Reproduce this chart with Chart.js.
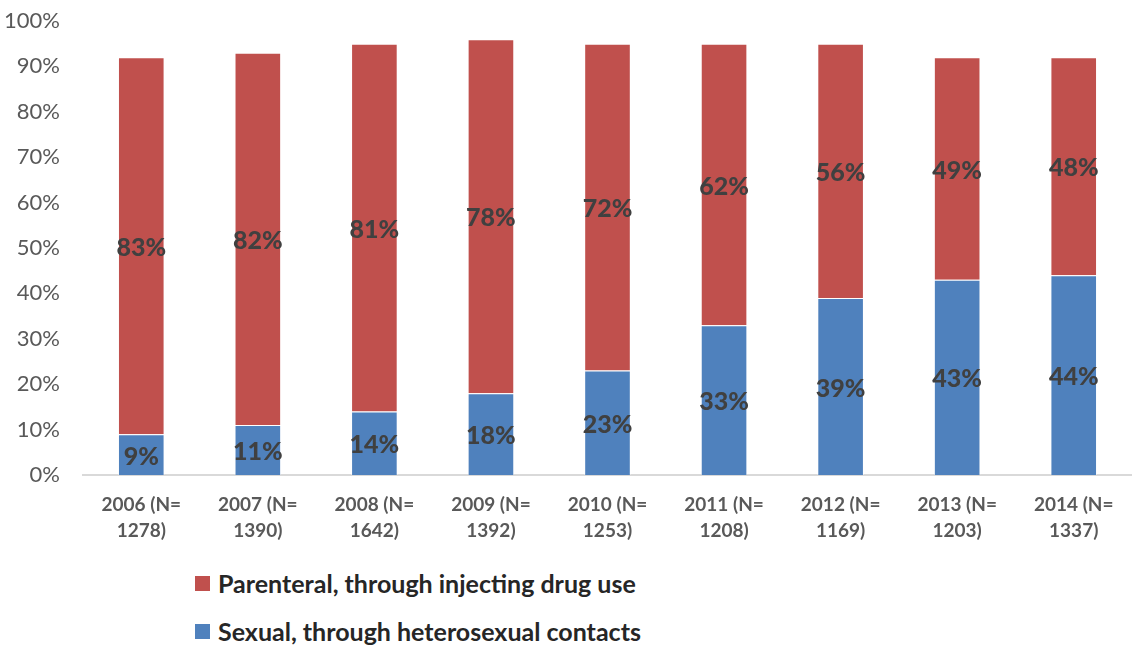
<!DOCTYPE html>
<html>
<head>
<meta charset="utf-8">
<script src="https://cdn.jsdelivr.net/npm/chart.js@4"></script>
<style>
  body { margin: 0; background: #fff; font-family: Lato, sans-serif; }
  #wrap { position: relative; width: 1132px; height: 560px; }
  #legend { position: absolute; left: 195px; top: 570px; }
  .item { display: flex; align-items: center; height: 26px; margin-bottom: 22px;
          font-weight: bold; font-size: 25px; color: #262626; }
  .box { width: 15px; height: 15px; margin-right: 8px; }
</style>
</head>
<body>
<div id="wrap"><canvas id="chart"></canvas></div>
<div id="legend"></div>
<script>
const years = ['2006', '2007', '2008', '2009', '2010', '2011', '2012', '2013', '2014'];
const sampleSizes = ['1278', '1390', '1642', '1392', '1253', '1208', '1169', '1203', '1337'];
const sexual = [9, 11, 14, 18, 23, 33, 39, 43, 44];
const parenteral = [83, 82, 81, 78, 72, 62, 56, 49, 48];

const labels = years.map((y, i) => [y + ' (N=', sampleSizes[i] + ')']);

// draws the % value in the middle of each bar segment
const segmentLabels = {
  id: 'segmentLabels',
  afterDatasetsDraw(chart) {
    const ctx = chart.ctx;
    ctx.save();
    ctx.font = '900 25px Lato';
    ctx.fillStyle = '#404040';
    ctx.textAlign = 'center';
    ctx.textBaseline = 'middle';
    chart.data.datasets.forEach((ds, di) => {
      chart.getDatasetMeta(di).data.forEach((bar, i) => {
        const p = bar.getProps(['x', 'y', 'base'], true);
        ctx.fillText(ds.data[i] + '%', p.x, (p.y + p.base) / 2 + 2);
      });
    });
    ctx.restore();
  }
};

const chart = new Chart(document.getElementById('chart'), {
  type: 'bar',
  data: {
    labels: labels,
    datasets: [
      {
        label: 'Sexual, through heterosexual contacts',
        data: sexual,
        backgroundColor: '#4F81BD',
        borderColor: 'rgba(255,255,255,0.5)',
        borderWidth: 1,
        categoryPercentage: 1,
        barPercentage: 0.4,
      },
      {
        label: 'Parenteral, through injecting drug use',
        data: parenteral,
        backgroundColor: '#C0504D',
        borderColor: 'rgba(255,255,255,0.5)',
        borderWidth: 1,
        categoryPercentage: 1,
        barPercentage: 0.4,
      },
    ],
  },
  options: {
    responsive: true,
    maintainAspectRatio: false,
    animation: false,
    layout: { padding: { top: 21, right: 0, left: 0, bottom: 0 } },
    plugins: {
      legend: { display: false },
      tooltip: { enabled: false },
    },
    scales: {
      x: {
        stacked: true,
        grid: { display: false },
        border: { color: '#d9d9d9', width: 2 },
        ticks: {
          color: '#595959',
          font: { family: 'Lato', size: 19, weight: 'bold', lineHeight: 1.35 },
          padding: 9,
          maxRotation: 0,
          autoSkip: false,
        },
        afterFit: (s) => { s.height = 85; },
      },
      y: {
        stacked: true,
        min: 0,
        max: 100,
        grid: { display: false, drawTicks: false },
        border: { display: false },
        ticks: {
          stepSize: 10,
          color: '#595959',
          font: { family: 'Lato', size: 22 },
          padding: 23,
          callback: (v) => v + '%',
        },
        afterFit: (s) => { s.width = 83; s.paddingTop = 0; s.paddingBottom = 0; },
      },
    },
  },
  plugins: [segmentLabels],
});

// legend listed top-down: parenteral first, then sexual
const legendEl = document.getElementById('legend');
chart.data.datasets.slice().reverse().forEach((ds) => {
  const item = document.createElement('div');
  item.className = 'item';
  const box = document.createElement('span');
  box.className = 'box';
  box.style.background = ds.backgroundColor;
  item.appendChild(box);
  item.appendChild(document.createTextNode(ds.label));
  legendEl.appendChild(item);
});
</script>
</body>
</html>
